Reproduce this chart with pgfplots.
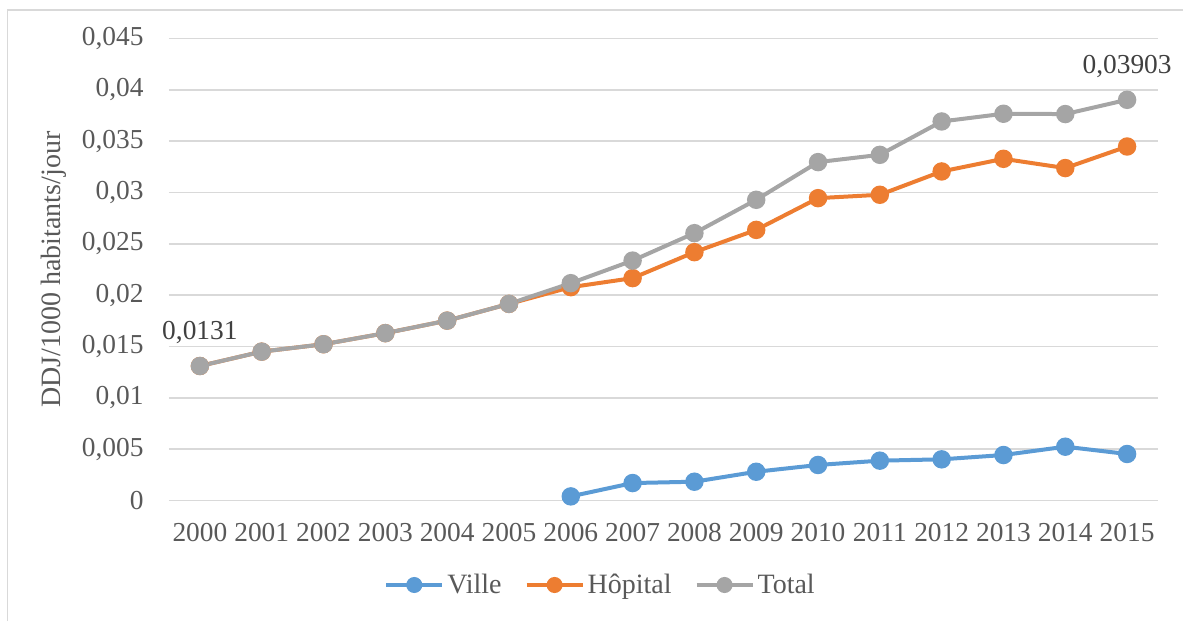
\documentclass[border=0pt]{standalone}
\usepackage{fontspec}
\setmainfont{Liberation Serif}
\usepackage{pgfplots}
\pgfplotsset{compat=1.18}
\definecolor{cVille}{HTML}{5B9BD5}
\definecolor{cHop}{HTML}{ED7D31}
\definecolor{cTot}{HTML}{A5A5A5}
\definecolor{cGrid}{HTML}{D9D9D9}
\definecolor{cText}{HTML}{595959}
\definecolor{cLab}{HTML}{404040}
\begin{document}
\begin{tikzpicture}
\useasboundingbox (0,0) rectangle (591.5pt,310.5pt);
\draw[cGrid, line width=0.9pt] (3.75pt,0) -- (3.75pt,305.5pt) -- (591.5pt,305.5pt);
\begin{axis}[
  at={(84.5pt,60.25pt)}, anchor=south west,
  scale only axis, width=494.5pt, height=231pt,
  clip=false,
  xmin=-0.5, xmax=15.5, ymin=0, ymax=0.045,
  xtick={0,...,15},
  xticklabels={2000,2001,2002,2003,2004,2005,2006,2007,2008,2009,2010,2011,2012,2013,2014,2015},
  ytick={0,0.005,0.01,0.015,0.02,0.025,0.03,0.035,0.04,0.045},
  scaled y ticks=false,
  yticklabel style={/pgf/number format/fixed, /pgf/number format/precision=3, /pgf/number format/use comma},
  /pgf/number format/assume math mode=true,
  axis line style={draw=none},
  major tick length=0pt,
  ymajorgrids, grid style={cGrid, line width=0.8pt},
  tick label style={font=\fontsize{13.7}{15}\selectfont, text=cText},
  yticklabel style={anchor=east, inner sep=0pt, xshift=-12.5pt},
  xticklabel style={anchor=north, inner sep=0pt, yshift=-11pt},
  ylabel={DDJ/1000 habitants/jour},
  ylabel style={at={(axis description cs:-0.1163,0.5)}, anchor=center, inner sep=0pt, font=\fontsize{14}{15}\selectfont, text=cText},
  legend columns=3,
  legend style={draw=none, fill=none, at={(axis description cs:0.4368,-0.1829)}, anchor=center,
    font=\fontsize{14}{15}\selectfont, text=cText,
    /tikz/every even column/.append style={column sep=10pt},
    nodes={inner sep=1.5pt}},
  legend image code/.code={\draw[mark repeat=2,mark phase=2,#1, mark size=3pt] plot coordinates {(0pt,0pt) (14pt,0pt) (28pt,0pt)};},
  every axis plot/.append style={line width=2pt, mark=*, mark size=3.6pt, mark options={solid}},
]
\addplot[color=cVille] coordinates {
(6,0.0004) (7,0.0017) (8,0.00183) (9,0.0028) (10,0.00346) (11,0.00388) (12,0.00401) (13,0.00443) (14,0.00524) (15,0.00453)};
\addlegendentry{Ville}
\addplot[color=cHop] coordinates {
(0,0.0131) (1,0.0145) (2,0.01522) (3,0.0163) (4,0.01752) (5,0.01915) (6,0.02078) (7,0.02166) (8,0.02419) (9,0.02636) (10,0.02945) (11,0.02978) (12,0.03205) (13,0.03328) (14,0.03238) (15,0.03448)};
\addlegendentry{Hôpital}
\addplot[color=cTot] coordinates {
(0,0.0131) (1,0.0145) (2,0.01522) (3,0.0163) (4,0.01752) (5,0.01915) (6,0.02117) (7,0.02337) (8,0.02604) (9,0.02929) (10,0.03296) (11,0.03367) (12,0.03692) (13,0.03767) (14,0.03764) (15,0.03903)};
\addlegendentry{Total}
\node[text=cLab, font=\fontsize{13.7}{15}\selectfont, anchor=center, yshift=17pt] at (axis cs:0,0.0131) {0,0131};
\node[text=cLab, font=\fontsize{13.7}{15}\selectfont, anchor=center, yshift=16.5pt] at (axis cs:15,0.03903) {0,03903};
\end{axis}
\end{tikzpicture}
\end{document}
